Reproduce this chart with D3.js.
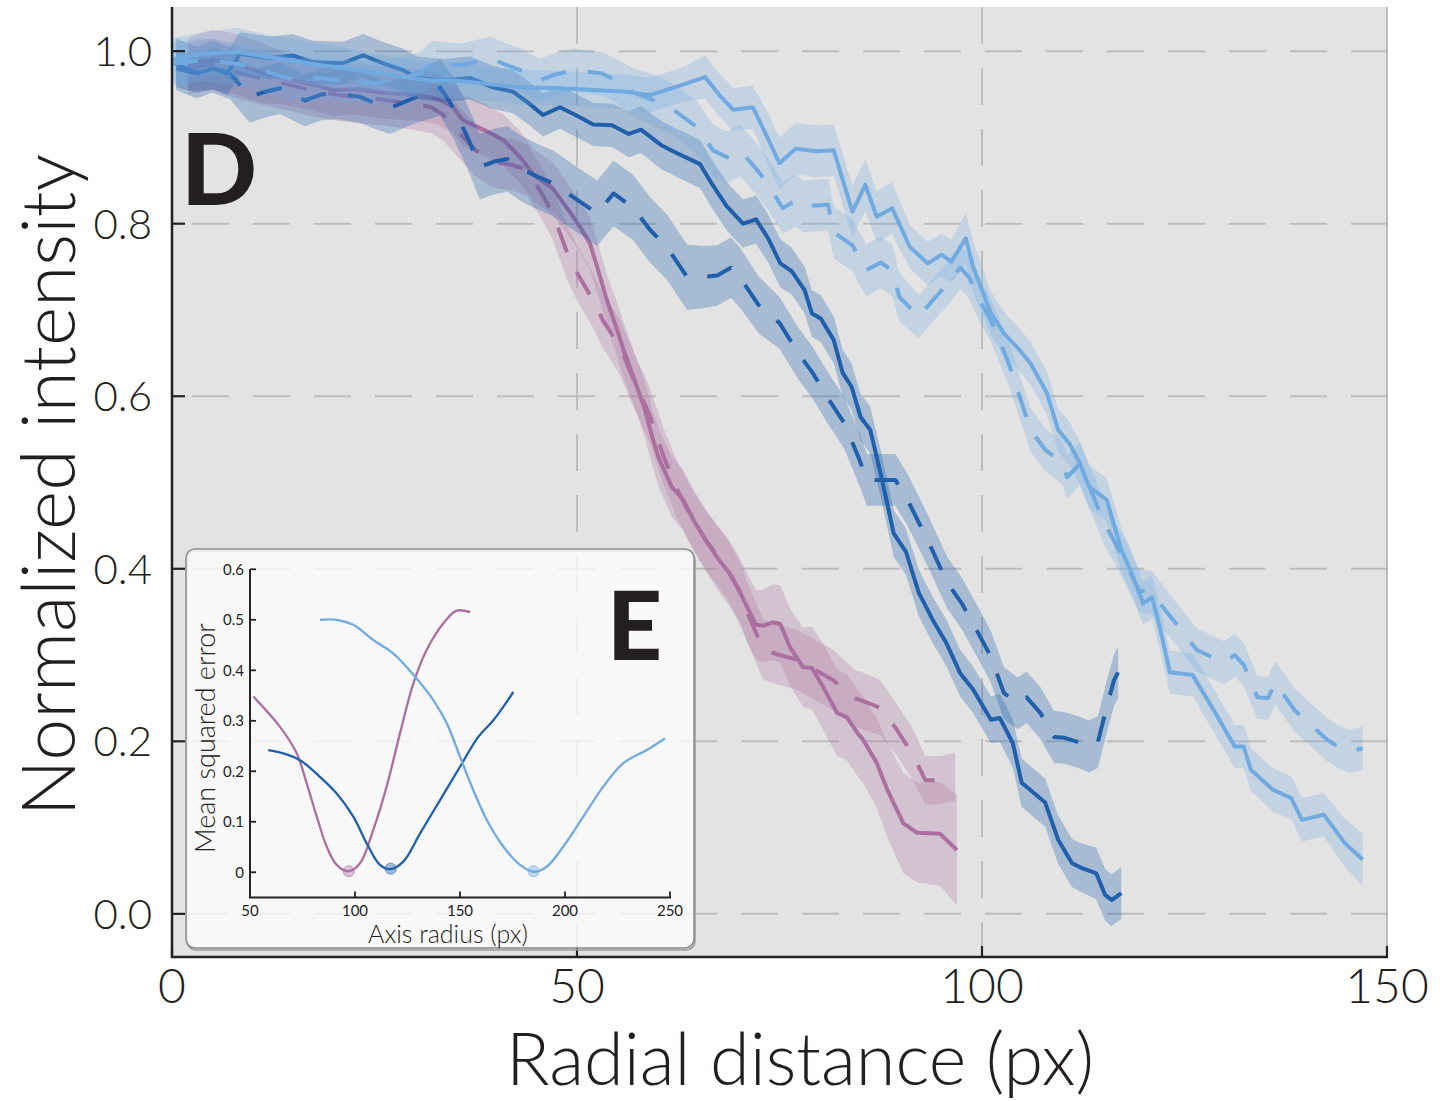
<!DOCTYPE html>
<html>
<head>
<meta charset="utf-8">
<script src="https://cdn.jsdelivr.net/npm/d3@7"></script>
<style>
  body { margin: 0; background: #fff; }
  svg { display: block; font-family: Lato, "Open Sans", sans-serif; }
</style>
</head>
<body>
<svg id="chart" width="1442" height="1101"></svg>
<script>
// ---- data: [radial distance, normalized intensity, band half-width] ----
var pinkSolid = [[2,0.985,.03],[5,0.99,.035],[8,0.985,.035],[11,0.975,.035],[14,0.968,.03],[17,0.962,.03],[20,0.955,.03],
  [23,0.956,.03],[26,0.952,.03],[28.5,0.95,.03],[30.6,0.949,.03],[32.7,0.945,.03],[34.7,0.935,.03],[35.9,0.92,.03],
  [38.9,0.907,.03],[40.9,0.897,.03],[43,0.877,.03],[44.6,0.857,.03],[47,0.841,.03],[49,0.815,.03],[50.4,0.796,.03],
  [51.6,0.777,.03],[52.8,0.74,.03],[53.7,0.711,.03],[55.1,0.673,.032],[55.7,0.655,.032],[57.4,0.611,.032],[58.4,0.584,.033],
  [59.4,0.549,.033],[60.2,0.526,.034],[61.7,0.495,.035],[63.1,0.48,.035],[64.6,0.453,.035],[65.9,0.433,.036],[67.4,0.412,.037],
  [68.8,0.395,.038],[69.8,0.379,.038],[71.2,0.352,.04],[72.1,0.335,.04],[73,0.334,.042],[74.2,0.338,.044],[75.1,0.336,.045],
  [76.3,0.309,.045],[77.9,0.286,.046],[79,0.285,.048],[80.4,0.263,.05],[82.1,0.233,.05],[83.3,0.228,.05],[84.6,0.21,.05],
  [85.3,0.202,.05],[87,0.175,.052],[88.3,0.144,.055],[90.3,0.105,.058],[92,0.094,.058],[94.8,0.093,.06],[96.9,0.074,.064]];

var pinkDashed = [[2,0.98,.03],[5,0.985,.03],[8,0.975,.03],[11,0.968,.03],[14,0.962,.03],[17,0.955,.03],[20,0.95,.03],
  [23,0.946,.03],[26,0.944,.03],[29,0.94,.03],[32,0.935,.03],[33.5,0.926,.03],[35.5,0.905,.03],[37.5,0.885,.03],
  [39.6,0.872,.03],[42.1,0.868,.03],[43.8,0.862,.03],[45.4,0.839,.03],[47,0.812,.03],[48.8,0.766,.032],[50,0.743,.032],
  [52,0.711,.032],[53.2,0.688,.032],[55.3,0.657,.032],[57,0.619,.032],[58.9,0.58,.032],[60.7,0.53,.033],[62.2,0.495,.033],
  [64.1,0.46,.034],[65.9,0.433,.034],[68.4,0.402,.035],[70.2,0.372,.035],[71,0.35,.035],[73,0.306,.035],[75,0.3,.035],
  [77,0.295,.035],[79,0.285,.035],[81.6,0.271,.035],[84.3,0.25,.033],[85.8,0.245,.033],[87.4,0.239,.032],[89.3,0.216,.03],
  [91.5,0.184,.03],[93,0.155,.028],[94.8,0.155,.028],[96.7,0.159,.028]];

var darkSolid = [[0.5,0.98,.022],[3.1,0.974,.022],[5.1,0.98,.024],[6.8,0.974,.025],[8.4,0.997,.025],[12.1,0.992,.025],
  [14.9,0.995,.025],[17.4,0.987,.025],[21.1,0.986,.025],[23.6,0.995,.025],[26,0.986,.025],[28.5,0.978,.025],[30.2,0.969,.025],
  [33.5,0.966,.025],[36.8,0.969,.025],[39.6,0.958,.025],[42.1,0.953,.025],[44,0.94,.025],[45.8,0.926,.025],[47.9,0.935,.025],
  [50,0.925,.025],[52,0.915,.025],[54.3,0.914,.025],[56.4,0.904,.027],[57.9,0.909,.027],[60.4,0.891,.028],[62.3,0.882,.028],
  [65.2,0.869,.028],[66.6,0.847,.028],[68.5,0.82,.028],[70.5,0.8,.028],[72.1,0.805,.028],[73.6,0.783,.028],[75.1,0.754,.028],
  [76.5,0.745,.027],[78.1,0.723,.027],[79,0.696,.027],[80.1,0.69,.027],[81.7,0.665,.027],[82.8,0.627,.027],[83.9,0.611,.027],
  [85,0.576,.027],[86.2,0.561,.027],[87.5,0.51,.027],[89.1,0.441,.027],[90.6,0.42,.027],[92.2,0.372,.027],[93.9,0.341,.027],
  [95.6,0.314,.027],[97.3,0.279,.027],[98.9,0.26,.027],[101.1,0.225,.027],[102.2,0.227,.028],[103.8,0.198,.028],
  [104.9,0.152,.028],[107.8,0.129,.028],[109.4,0.086,.028],[111.1,0.059,.028],[112.1,0.054,.028],[114.1,0.047,.03],
  [115.2,0.022,.03],[116,0.016,.03],[117.2,0.024,.03]];

var darkDashed = [[0.5,0.985,.03],[3,0.975,.03],[5,0.982,.03],[7.2,0.974,.03],[9.6,0.947,.03],[11.5,0.953,.03],[13.3,0.957,.03],
  [16.4,0.943,.03],[18.5,0.95,.03],[20.4,0.951,.03],[23.2,0.947,.03],[25,0.94,.03],[26.9,0.934,.03],[30.2,0.947,.03],
  [33.1,0.958,.033],[34.7,0.935,.035],[36.5,0.9,.037],[38,0.866,.038],[39.8,0.872,.038],[41.4,0.875,.038],[43.1,0.864,.038],
  [45,0.855,.038],[47,0.847,.038],[49.5,0.831,.038],[52.5,0.812,.038],[54.5,0.835,.038],[56.9,0.819,.038],[59,0.793,.038],
  [61.1,0.773,.038],[63.6,0.738,.038],[65.5,0.738,.036],[67.3,0.74,.035],[69,0.749,.035],[70.1,0.738,.035],[72.4,0.706,.033],
  [75,0.685,.03],[77.3,0.65,.03],[79.1,0.627,.03],[81.1,0.596,.03],[83,0.569,.03],[84.8,0.528,.03],[85.8,0.503,.03],
  [87.5,0.503,.03],[89.3,0.503,.03],[90.8,0.48,.03],[93.3,0.433,.03],[95.7,0.384,.03],[97.5,0.36,.03],[99.5,0.326,.03],
  [101.1,0.298,.03],[102.7,0.256,.03],[104.4,0.244,.03],[105.5,0.251,.03],[107.2,0.233,.03],[108.9,0.205,.03],
  [110.2,0.204,.03],[111.9,0.199,.03],[113.2,0.194,.03],[114.3,0.199,.03],[115.4,0.24,.03],[116.3,0.271,.03],[116.8,0.28,.03]];

var lightSolid = [[0,0.99,.025],[3.8,0.997,.025],[8,0.999,.028],[12.1,0.993,.025],[16.2,0.987,.025],[20.4,0.981,.025],
  [24.4,0.976,.022],[28.5,0.97,.022],[31.9,0.966,.02],[35,0.966,.02],[39,0.962,.02],[43,0.958,.02],[48,0.957,.02],
  [52,0.955,.02],[56,0.953,.02],[59,0.949,.02],[63,0.961,.02],[65.8,0.97,.025],[67.5,0.95,.025],[69.3,0.932,.025],
  [71.7,0.935,.025],[73.5,0.9,.03],[75,0.87,.03],[77,0.887,.03],[79.5,0.884,.03],[81.7,0.885,.03],[84,0.814,.03],
  [85.6,0.845,.03],[87,0.808,.03],[88.9,0.818,.03],[91.1,0.773,.025],[93.3,0.754,.025],[95,0.764,.025],[96.2,0.756,.025],
  [98,0.783,.03],[98.9,0.75,.03],[101.1,0.696,.025],[102.7,0.673,.025],[104.5,0.655,.025],[106,0.638,.025],[108,0.604,.025],
  [109.4,0.561,.025],[110.8,0.545,.025],[112.1,0.522,.025],[113.2,0.495,.025],[115.4,0.48,.025],[117.2,0.422,.025],
  [118.3,0.399,.025],[119.9,0.36,.025],[121,0.367,.025],[122.1,0.326,.025],[123.2,0.28,.025],[126,0.277,.025],
  [128.8,0.233,.025],[131.2,0.194,.025],[132.3,0.194,.025],[133.2,0.167,.025],[135.9,0.144,.025],[138.2,0.134,.025],
  [139.5,0.109,.025],[142.2,0.115,.025],[144.8,0.082,.028],[147,0.063,.03]];

var lightDashed = [[0,0.985,.025],[4,0.99,.025],[8,0.985,.025],[11.2,0.978,.025],[13,0.972,.025],[15.4,0.966,.025],
  [18.3,0.969,.025],[20.5,0.966,.025],[22.8,0.964,.025],[25.3,0.963,.025],[28,0.968,.025],[30.6,0.974,.025],[32.1,0.987,.025],
  [34,0.985,.025],[35.9,0.984,.025],[39.3,0.992,.025],[41,0.985,.025],[43,0.978,.025],[45.4,0.966,.025],[47,0.972,.025],
  [49.5,0.978,.025],[53.1,0.974,.025],[55,0.965,.025],[57,0.952,.028],[59.5,0.943,.03],[61.9,0.932,.03],[64.8,0.912,.03],
  [66.8,0.885,.03],[68.5,0.877,.03],[70.1,0.885,.03],[72,0.865,.03],[73.5,0.847,.03],[75.4,0.818,.03],[77,0.827,.03],
  [78,0.82,.03],[81,0.822,.03],[81.7,0.79,.03],[84,0.775,.03],[85.7,0.746,.03],[87.5,0.755,.03],[88.9,0.746,.03],
  [89.8,0.715,.028],[92.2,0.692,.025],[93.9,0.711,.025],[96.2,0.735,.025],[97.3,0.749,.025],[98.4,0.738,.025],
  [99.5,0.715,.025],[101.1,0.688,.025],[103.3,0.638,.025],[104.5,0.604,.025],[106,0.561,.025],[107.8,0.538,.025],
  [110,0.522,.025],[110.5,0.506,.025],[112.1,0.522,.025],[113.5,0.49,.025],[115,0.455,.025],[117,0.42,.025],
  [119.4,0.375,.025],[121,0.372,.025],[122.8,0.35,.025],[124.6,0.329,.025],[126.5,0.306,.025],[129.9,0.291,.025],
  [131.2,0.3,.025],[132.3,0.289,.025],[134,0.251,.025],[135.3,0.25,.025],[136.2,0.268,.025],[138.6,0.236,.025],
  [140.6,0.219,.025],[142.6,0.202,.025],[143.9,0.194,.025],[145.3,0.188,.025],[147,0.192,.025]];

// inset (E): [axis radius, mean squared error]
var insetPink = [[51.6,0.348],[64.3,0.288],[72.2,0.236],[77,0.176],[81.8,0.11],[86.5,0.051],[91.3,0.0145],[96.8,0.002],
  [102.4,0.018],[108.7,0.084],[115.1,0.17],[121.4,0.275],[127.8,0.374],[134.1,0.44],[142.1,0.493],[148.4,0.518],[154.8,0.515]];
var insetDark = [[58.7,0.242],[65.4,0.236],[73.8,0.222],[83.3,0.189],[91.3,0.156],[99.2,0.11],[105.6,0.057],[111.9,0.0145],
  [116.7,0.006],[123,0.021],[131,0.077],[140.5,0.143],[150,0.209],[158.7,0.268],[165.9,0.301],[175.4,0.357]];
var insetLight = [[83.3,0.5],[91.3,0.5],[99.2,0.49],[108.7,0.46],[118.3,0.433],[127.8,0.391],[137.3,0.341],[143.7,0.295],
  [150,0.229],[156.3,0.163],[162.7,0.104],[170.6,0.051],[178.6,0.0145],[184.9,0.001],[191.3,0.011],[199.2,0.051],
  [208.7,0.11],[218.3,0.17],[227.8,0.216],[238.9,0.242],[247.6,0.265]];
var insetMinima = [[97,0.002],[117,0.007],[185,0.002]];

var xTicks = [0, 50, 100, 150];
var yTicks = [0.0, 0.2, 0.4, 0.6, 0.8, 1.0];
var xGrid = [50, 100];
var insetXTicks = [50, 100, 150, 200, 250];
var insetYTicks = [0, 0.1, 0.2, 0.3, 0.4, 0.5, 0.6];

var pink = "#ab6fa0", dark = "#1f5fab", light = "#70aae0";

var svg = d3.select("#chart");
var x = d3.scaleLinear().domain([0, 150]).range([172, 1387]);
var y = d3.scaleLinear().domain([-0.05, 1.05]).range([957, 8]);

// plot background
svg.append("rect").attr("x", 172).attr("y", 7).attr("width", 1215).attr("height", 950).attr("fill", "#e3e3e3");

// grid
svg.append("g").selectAll("line").data(yTicks).enter().append("line")
  .attr("x1", 192).attr("x2", 1387).attr("y1", d => y(d)).attr("y2", d => y(d))
  .attr("stroke", "#bdbdbd").attr("stroke-width", 2).attr("stroke-dasharray", "37,24");
svg.append("g").selectAll("line").data(xGrid).enter().append("line")
  .attr("x1", d => x(d)).attr("x2", d => x(d)).attr("y1", 7).attr("y2", 957)
  .attr("stroke", "#b3b3b3").attr("stroke-width", 1.6).attr("stroke-dasharray", "37,24");

// series
var series = [
  {data: pinkSolid, color: pink, op: 0.27, dash: null},
  {data: pinkDashed, color: pink, op: 0.27, dash: "26,22"},
  {data: darkSolid, color: dark, op: 0.3, dash: null},
  {data: darkDashed, color: dark, op: 0.3, dash: "26,22"},
  {data: lightSolid, color: light, op: 0.27, dash: null},
  {data: lightDashed, color: light, op: 0.27, dash: "26,22"}
];
var band = d3.area().x(d => x(d[0])).y0(d => y(d[1] - d[2])).y1(d => y(d[1] + d[2]));
var line = d3.line().x(d => x(d[0])).y(d => y(d[1]));

series.forEach(function(s) {
  svg.append("path").attr("d", band(s.data)).attr("fill", s.color).attr("fill-opacity", s.op);
  svg.append("path").attr("d", line(s.data)).attr("fill", "none")
    .attr("stroke", s.color).attr("stroke-width", 4).attr("stroke-linejoin", "round")
    .attr("stroke-dasharray", s.dash);
});

// frame + ticks
svg.append("line").attr("x1", 1387).attr("x2", 1387).attr("y1", 7).attr("y2", 957).attr("stroke", "#aaa").attr("stroke-width", 1.5);
svg.append("line").attr("x1", 172).attr("x2", 172).attr("y1", 7).attr("y2", 958).attr("stroke", "#222").attr("stroke-width", 2.5);
svg.append("line").attr("x1", 171).attr("x2", 1388).attr("y1", 957).attr("y2", 957).attr("stroke", "#222").attr("stroke-width", 2.5);

svg.append("g").selectAll("line").data(yTicks).enter().append("line")
  .attr("x1", 172).attr("x2", 185).attr("y1", d => y(d)).attr("y2", d => y(d))
  .attr("stroke", "#222").attr("stroke-width", 2.2);
svg.append("g").selectAll("line").data(xTicks).enter().append("line")
  .attr("x1", d => x(d)).attr("x2", d => x(d)).attr("y1", 946).attr("y2", 957)
  .attr("stroke", "#222").attr("stroke-width", 2.2);

svg.append("g").selectAll("text").data(yTicks).enter().append("text")
  .attr("x", 152).attr("y", d => y(d)).attr("dy", "0.36em")
  .attr("text-anchor", "end").attr("font-size", 42).attr("font-weight", 300).attr("fill", "#231f20")
  .text(d => d.toFixed(1));
svg.append("g").selectAll("text").data(xTicks).enter().append("text")
  .attr("x", d => x(d)).attr("y", 1003)
  .attr("text-anchor", "middle").attr("font-size", 48).attr("font-weight", 300).attr("fill", "#231f20")
  .text(d => d);

svg.append("text").attr("x", 800).attr("y", 1085).attr("text-anchor", "middle")
  .attr("font-size", 72).attr("font-weight", 300).attr("fill", "#231f20").text("Radial distance (px)");
svg.append("text").attr("transform", "translate(75,485) rotate(-90)").attr("text-anchor", "middle")
  .attr("font-size", 75).attr("font-weight", 300).attr("fill", "#231f20").text("Normalized intensity");

svg.append("text").attr("x", 181).attr("y", 205).attr("font-size", 100).attr("font-weight", 900)
  .attr("fill", "#231f20").text("D");

// ---- inset E ----
var ix = d3.scaleLinear().domain([50, 250]).range([250, 670]);
var iy = d3.scaleLinear().domain([-0.05, 0.6]).range([897.5, 569.3]);
var inset = svg.append("g");

inset.append("rect").attr("x", 187).attr("y", 551).attr("width", 508).attr("height", 399).attr("rx", 9)
  .attr("fill", "none").attr("stroke", "#9a9a9a").attr("stroke-width", 1.5);
inset.append("rect").attr("x", 186).attr("y", 549).attr("width", 508).attr("height", 399).attr("rx", 9)
  .attr("fill", "#fff").attr("fill-opacity", 0.76).attr("stroke", "#8c8c8c").attr("stroke-width", 1.5);

inset.append("line").attr("x1", 250).attr("x2", 250).attr("y1", iy(0.6)).attr("y2", iy(-0.05))
  .attr("stroke", "#222").attr("stroke-width", 2);
inset.append("line").attr("x1", 249).attr("x2", 671).attr("y1", iy(-0.05)).attr("y2", iy(-0.05))
  .attr("stroke", "#222").attr("stroke-width", 2);
inset.append("g").selectAll("line").data(insetYTicks).enter().append("line")
  .attr("x1", 250).attr("x2", 256).attr("y1", d => iy(d)).attr("y2", d => iy(d))
  .attr("stroke", "#222").attr("stroke-width", 1.8);
inset.append("g").selectAll("line").data(insetXTicks).enter().append("line")
  .attr("x1", d => ix(d)).attr("x2", d => ix(d)).attr("y1", iy(-0.05) - 6).attr("y2", iy(-0.05))
  .attr("stroke", "#222").attr("stroke-width", 1.8);

inset.append("g").selectAll("text").data(insetYTicks).enter().append("text")
  .attr("x", 244).attr("y", d => iy(d)).attr("dy", "0.36em").attr("text-anchor", "end")
  .attr("font-size", 15).attr("fill", "#231f20").text(d => d === 0 ? "0" : d.toFixed(1));
inset.append("g").selectAll("text").data(insetXTicks).enter().append("text")
  .attr("x", d => ix(d)).attr("y", 916).attr("text-anchor", "middle")
  .attr("font-size", 15).attr("fill", "#231f20").text(d => d);

inset.append("text").attr("x", 448).attr("y", 943).attr("text-anchor", "middle")
  .attr("font-size", 25).attr("font-weight", 300).attr("fill", "#231f20").text("Axis radius (px)");
inset.append("text").attr("transform", "translate(215,738) rotate(-90)").attr("text-anchor", "middle")
  .attr("font-size", 27).attr("font-weight", 300).attr("fill", "#231f20").text("Mean squared error");

var iline = d3.line().x(d => ix(d[0])).y(d => iy(d[1])).curve(d3.curveCatmullRom);
[[insetPink, pink], [insetDark, dark], [insetLight, light]].forEach(function(c, i) {
  inset.append("path").attr("d", iline(c[0])).attr("fill", "none").attr("stroke", c[1]).attr("stroke-width", 2.3);
  inset.append("circle").attr("cx", ix(insetMinima[i][0])).attr("cy", iy(insetMinima[i][1])).attr("r", 5.5)
    .attr("fill", c[1]).attr("fill-opacity", 0.4).attr("stroke", c[1]).attr("stroke-opacity", 0.6).attr("stroke-width", 1);
});

inset.append("text").attr("x", 607).attr("y", 660).attr("font-size", 96).attr("font-weight", 900)
  .attr("fill", "#231f20").text("E");
</script>
</body>
</html>
